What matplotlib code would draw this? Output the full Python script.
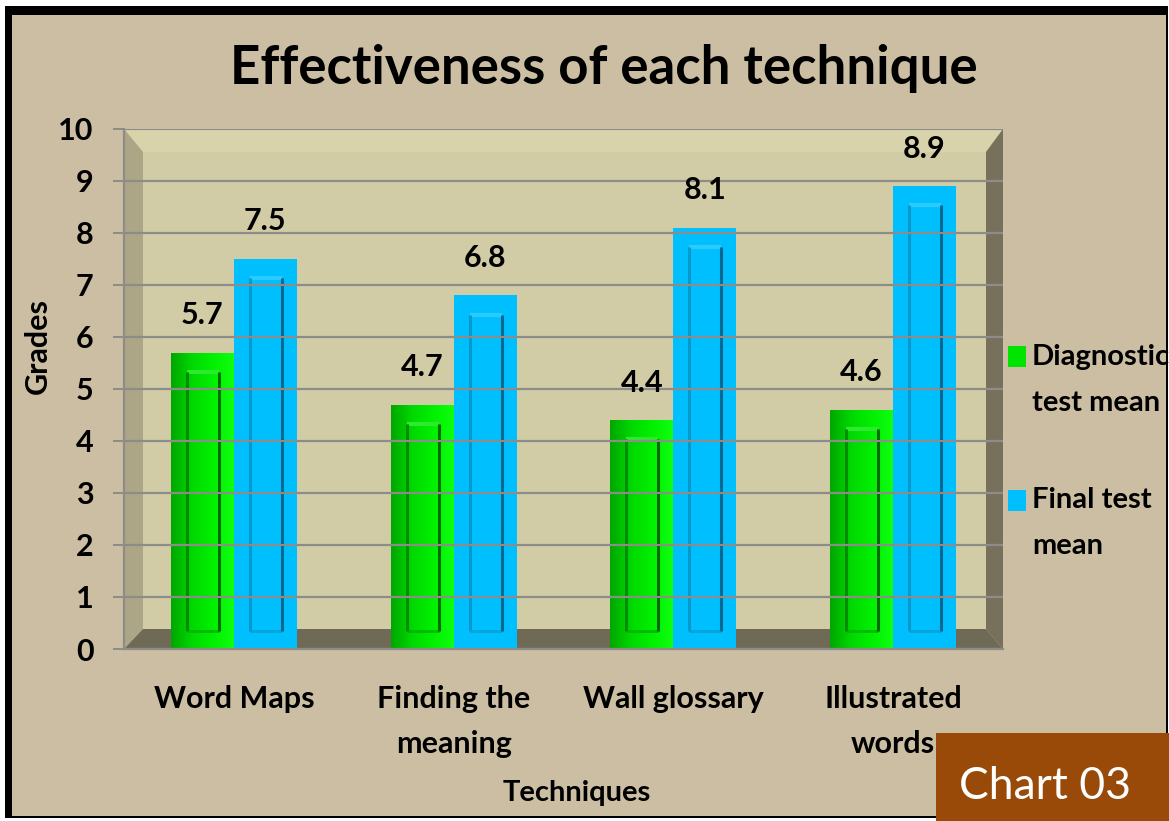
import matplotlib
matplotlib.use("Agg")
import matplotlib.pyplot as plt
import numpy as np
from matplotlib.patches import Rectangle, Polygon
from matplotlib.colors import LinearSegmentedColormap

# ---------------- data ----------------
categories = ["Word Maps", "Finding the\nmeaning", "Wall glossary", "Illustrated\nwords"]
diagnostic = [5.7, 4.7, 4.4, 4.6]
final = [7.5, 6.8, 8.1, 8.9]
series_names = ["Diagnostic\ntest mean", "Final test\nmean"]
yticks = list(range(0, 11))

# ---------------- style ----------------
FONT = "Lato"
W, H = 1169, 821
BG = "#CBBEA2"
GREEN = "#00E400"
BLUE = "#00BFFF"
GRID = "#8E8C88"

def fx(px):
    return px / W

def fy(py):
    return 1 - py / H

fig = plt.figure(figsize=(W / 100, H / 100), dpi=100, facecolor="white")

# background + frame
fig.patches.append(Rectangle((fx(5), fy(818)), fx(1168) - fx(5), fy(6) - fy(818),
                             transform=fig.transFigure, facecolor=BG, edgecolor="none", zorder=-10))
for (x0, y0, x1, y1) in [(5, 6, 1168, 15), (5, 6, 12, 818), (1166, 6, 1168, 818), (5, 816, 1168, 818)]:
    fig.patches.append(Rectangle((fx(x0), fy(y1)), fx(x1) - fx(x0), fy(y0) - fy(y1),
                                 transform=fig.transFigure, facecolor="black",
                                 edgecolor="none", zorder=-9))

ax_l, ax_r, ax_t, ax_b = 124, 1003, 129, 649
ax = fig.add_axes([fx(ax_l), fy(ax_b), fx(ax_r) - fx(ax_l), fy(ax_t) - fy(ax_b)])
ax.set_facecolor("#D1CBA6")
ax.set_xlim(-0.5, len(categories) - 0.5)
ax.set_ylim(0, 10)

# bevelled walls (axes-fraction geometry)
aw, ah = ax_r - ax_l, ax_b - ax_t
lw_ = 19 / aw
rw_ = 17 / aw
th_ = 23 / ah
bh_ = 20 / ah
tr = ax.transAxes
walls = [
    ([(0, 1), (1, 1), (1 - rw_, 1 - th_), (lw_, 1 - th_)], "#D9D3AC"),  # top
    ([(0, 0), (0, 1), (lw_, 1 - th_), (lw_, bh_)], "#ADA686"),            # left
    ([(1, 0), (1, 1), (1 - rw_, 1 - th_), (1 - rw_, bh_)], "#77715B"),    # right
    ([(0, 0), (1, 0), (1 - rw_, bh_), (lw_, bh_)], "#6F6A56"),            # floor
]
for pts, c in walls:
    ax.add_patch(Polygon(pts, closed=True, transform=tr, facecolor=c,
                         edgecolor="none", zorder=0.5))

ax.set_yticks(yticks)
ax.yaxis.grid(True, color=GRID, linewidth=1.6, zorder=1)
ax.set_axisbelow(False)
for gl in ax.get_ygridlines():
    gl.set_zorder(1)
for s in ["top", "right"]:
    ax.spines[s].set_visible(False)
for s in ["left", "bottom"]:
    ax.spines[s].set_color(GRID)
    ax.spines[s].set_linewidth(1.6)
    ax.spines[s].set_zorder(1.2)

ax.tick_params(axis="y", length=8, width=1.4, color=GRID, pad=14,
               labelsize=22, labelcolor="black")
ax.tick_params(axis="x", length=0, pad=26, labelsize=22, labelcolor="black")
for lab in ax.get_yticklabels():
    lab.set_fontfamily(FONT)
    lab.set_fontweight("bold")

x = np.arange(len(categories))
bw = 63 / 220
ax.set_xticks(x)
ax.set_xticklabels(categories, fontfamily=FONT, fontweight="bold", linespacing=1.75)

green_cmap = LinearSegmentedColormap.from_list("g", ["#00A600", "#00D800", "#00F000", "#10FF10"])

bars_g = ax.bar(x - bw / 2, diagnostic, bw, color=GREEN, edgecolor="none", zorder=2)
bars_b = ax.bar(x + bw / 2, final, bw, color=BLUE, edgecolor="none", zorder=2)

grad = np.linspace(0, 1, 256).reshape(1, -1)
for b in bars_g:
    x0, w, h = b.get_x(), b.get_width(), b.get_height()
    im = ax.imshow(grad, extent=[x0, x0 + w, 0, h], aspect="auto", cmap=green_cmap,
                   zorder=2.1, interpolation="bilinear")
    im.set_clip_path(b)

def panel(b, left_c, right_c, top_c, bot_c):
    x0, w, h = b.get_x(), b.get_width(), b.get_height()
    px0 = x0 + 16 / 220
    px1 = x0 + w - 15 / 220
    py0 = 0.35
    py1 = h - 0.37
    ax.plot([px0, px1], [py1, py1], color=top_c, lw=3, zorder=2.3, solid_capstyle="butt")
    ax.plot([px0, px1], [py0, py0], color=bot_c, lw=2, zorder=2.3, solid_capstyle="butt")
    ax.plot([px0, px0], [py0, py1], color=left_c, lw=2.2, zorder=2.4, solid_capstyle="butt")
    ax.plot([px1, px1], [py0, py1], color=right_c, lw=2.2, zorder=2.4, solid_capstyle="butt")

for b in bars_g:
    panel(b, "#008C00", "#006A00", "#2EEA2E", "#00B800")
for b in bars_b:
    panel(b, "#0899CC", "#05688E", "#2CCBFF", "#06A4DA")

for bars, vals in [(bars_g, diagnostic), (bars_b, final)]:
    for b, v in zip(bars, vals):
        ax.annotate(f"{v}", (b.get_x() + b.get_width() / 2, v), xytext=(0, 27),
                    textcoords="offset points", ha="center", va="center",
                    fontsize=22, fontweight="bold", fontfamily=FONT, zorder=5)

ax.set_xlim(-0.5, len(categories) - 0.5)
ax.set_ylim(0, 10)

# titles
fig.text(fx(604), fy(68), "Effectiveness of each technique", ha="center", va="center",
         fontsize=38, fontweight="bold", fontfamily=FONT)
fig.text(fx(38), fy(346), "Grades", ha="center", va="center", rotation=90,
         fontsize=22, fontweight="bold", fontfamily=FONT)
fig.text(fx(577), fy(793), "Techniques", ha="center", va="center",
         fontsize=21, fontweight="bold", fontfamily=FONT)

# legend
leg = [(GREEN, 346, series_names[0], 357), (BLUE, 490, series_names[1], 500)]
for c, sq_top, name, ty in leg:
    fig.patches.append(Rectangle((fx(1008), fy(sq_top + 21)), fx(1026) - fx(1008),
                                 fy(sq_top) - fy(sq_top + 21), transform=fig.transFigure,
                                 facecolor=c, edgecolor="none"))
    l1, l2 = name.split("\n")
    fig.text(fx(1032), fy(ty), l1, ha="left", va="center", fontsize=21,
             fontweight="bold", fontfamily=FONT)
    fig.text(fx(1032), fy(ty + 46), l2, ha="left", va="center", fontsize=21,
             fontweight="bold", fontfamily=FONT)

# Chart 03 box
fig.patches.append(Rectangle((fx(936), 0), 1 - fx(936), fy(733), transform=fig.transFigure,
                             facecolor="#9A4A08", edgecolor="none", zorder=5))
fig.text(fx(1045), fy(786), "Chart 03", ha="center", va="center", color="white",
         fontsize=32, fontfamily=FONT, zorder=6)

fig.savefig("out.png", dpi=100, facecolor=fig.get_facecolor())
